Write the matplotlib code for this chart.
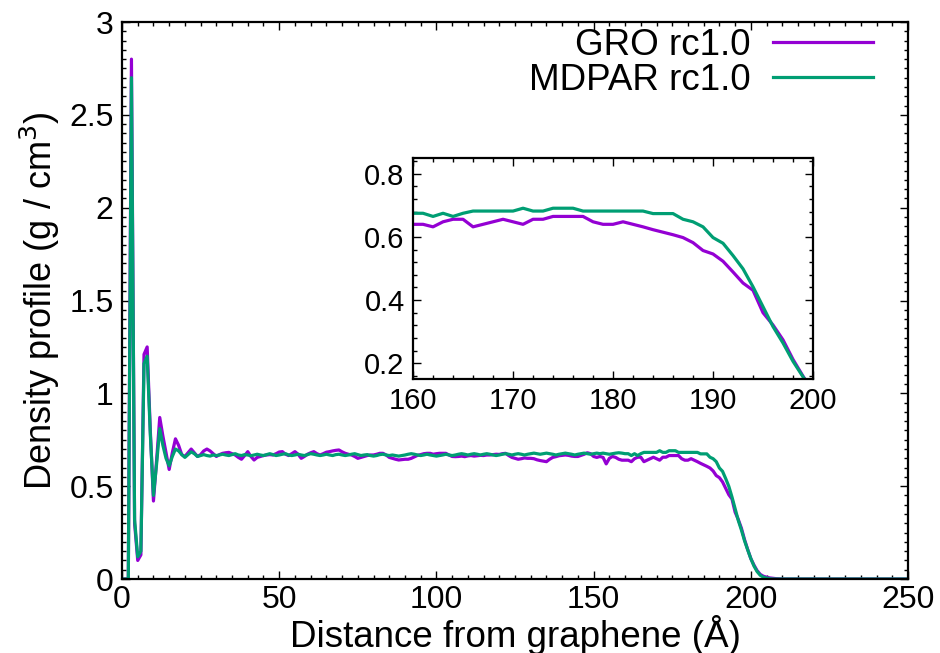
import numpy as np
import matplotlib
matplotlib.use('Agg')
import matplotlib.pyplot as plt
from matplotlib.ticker import MultipleLocator, FuncFormatter

plt.rcParams['font.family'] = ['Liberation Sans', 'DejaVu Sans']

# density profiles, 1 A bins starting at 0 A
gro = [0.0, 0.0, 0.0, 2.80, 0.30, 0.10, 0.13, 1.21, 1.25, 0.80,
       0.42, 0.64, 0.87, 0.77, 0.68, 0.59, 0.68, 0.755, 0.72, 0.67,
       0.66, 0.68, 0.70, 0.68, 0.66, 0.67, 0.69, 0.70, 0.69, 0.675,
       0.66, 0.67, 0.677, 0.68, 0.682, 0.675, 0.668, 0.655, 0.645, 0.665,
       0.686, 0.66, 0.641, 0.655, 0.66, 0.665, 0.668, 0.67, 0.668, 0.675,
       0.684, 0.686, 0.672, 0.665, 0.675, 0.686, 0.672, 0.65, 0.66, 0.672,
       0.68, 0.686, 0.675, 0.668, 0.675, 0.683, 0.686, 0.69, 0.693, 0.695,
       0.685, 0.677, 0.672, 0.668, 0.66, 0.65, 0.655, 0.66, 0.665, 0.668,
       0.668, 0.672, 0.677, 0.677, 0.668, 0.655, 0.65, 0.645, 0.641, 0.643,
       0.645, 0.645, 0.65, 0.658, 0.666, 0.67, 0.675, 0.677, 0.677, 0.672,
       0.675, 0.677, 0.677, 0.677, 0.668, 0.66, 0.659, 0.66, 0.662, 0.659,
       0.663, 0.665, 0.662, 0.664, 0.666, 0.665, 0.668, 0.668, 0.67, 0.672,
       0.671, 0.675, 0.677, 0.665, 0.655, 0.65, 0.645, 0.648, 0.652, 0.65,
       0.65, 0.648, 0.642, 0.638, 0.635, 0.632, 0.645, 0.655, 0.659, 0.664,
       0.666, 0.668, 0.666, 0.662, 0.66, 0.66, 0.666, 0.672, 0.68, 0.675,
       0.66, 0.655, 0.66, 0.655, 0.62, 0.65, 0.66, 0.655, 0.645, 0.64,
       0.640, 0.640, 0.632, 0.648, 0.656, 0.656, 0.632, 0.640, 0.648, 0.656,
       0.648, 0.640, 0.656, 0.656, 0.665, 0.665, 0.665, 0.665, 0.648, 0.640,
       0.640, 0.648, 0.640, 0.632, 0.623, 0.615, 0.607, 0.598, 0.582, 0.557,
       0.546, 0.523, 0.489, 0.454, 0.431, 0.360, 0.321, 0.274, 0.212, 0.159,
       0.11, 0.075, 0.045, 0.025, 0.015, 0.01, 0.006, 0.004, 0.002, 0.001,
       0.0, 0.0, 0.0, 0.0, 0.0, 0.0, 0.0, 0.0, 0.0, 0.0,
       0.0, 0.0, 0.0, 0.0, 0.0, 0.0, 0.0, 0.0, 0.0, 0.0,
       0.0, 0.0, 0.0, 0.0, 0.0, 0.0, 0.0, 0.0, 0.0, 0.0,
       0.0, 0.0, 0.0, 0.0, 0.0, 0.0, 0.0, 0.0, 0.0, 0.0,
       0.0]

mdpar = [0.0, 0.0, 0.0, 2.70, 0.32, 0.12, 0.15, 1.16, 1.20, 0.78,
         0.45, 0.62, 0.81, 0.72, 0.65, 0.61, 0.66, 0.70, 0.69, 0.67,
         0.655, 0.67, 0.685, 0.675, 0.66, 0.665, 0.67, 0.665, 0.662, 0.668,
         0.665, 0.668, 0.672, 0.668, 0.665, 0.67, 0.675, 0.668, 0.665, 0.67,
         0.668, 0.664, 0.668, 0.672, 0.668, 0.665, 0.67, 0.675, 0.67, 0.665,
         0.668, 0.672, 0.675, 0.668, 0.665, 0.668, 0.672, 0.668, 0.665, 0.67,
         0.675, 0.672, 0.668, 0.665, 0.668, 0.672, 0.668, 0.665, 0.67, 0.672,
         0.668, 0.665, 0.668, 0.672, 0.675, 0.67, 0.665, 0.668, 0.67, 0.665,
         0.662, 0.665, 0.67, 0.672, 0.668, 0.665, 0.668, 0.665, 0.662, 0.665,
         0.668, 0.672, 0.675, 0.672, 0.668, 0.665, 0.668, 0.672, 0.668, 0.665,
         0.662, 0.665, 0.668, 0.672, 0.668, 0.665, 0.668, 0.672, 0.675, 0.672,
         0.668, 0.672, 0.675, 0.672, 0.668, 0.672, 0.675, 0.672, 0.668, 0.665,
         0.668, 0.672, 0.675, 0.672, 0.668, 0.672, 0.675, 0.672, 0.668, 0.672,
         0.675, 0.678, 0.675, 0.672, 0.675, 0.678, 0.675, 0.672, 0.668, 0.672,
         0.675, 0.678, 0.675, 0.672, 0.668, 0.672, 0.675, 0.678, 0.675, 0.672,
         0.675, 0.678, 0.675, 0.678, 0.675, 0.672, 0.675, 0.678, 0.68, 0.678,
         0.675, 0.675, 0.665, 0.675, 0.665, 0.675, 0.682, 0.682, 0.682, 0.682,
         0.682, 0.691, 0.682, 0.682, 0.691, 0.691, 0.691, 0.682, 0.682, 0.682,
         0.682, 0.682, 0.682, 0.682, 0.674, 0.674, 0.674, 0.656, 0.648, 0.632,
         0.598, 0.58, 0.541, 0.499, 0.442, 0.379, 0.316, 0.264, 0.206, 0.157,
         0.11, 0.07, 0.04, 0.02, 0.01, 0.005, 0.002, 0.0, 0.0, 0.0,
         0.0, 0.0, 0.0, 0.0, 0.0, 0.0, 0.0, 0.0, 0.0, 0.0,
         0.0, 0.0, 0.0, 0.0, 0.0, 0.0, 0.0, 0.0, 0.0, 0.0,
         0.0, 0.0, 0.0, 0.0, 0.0, 0.0, 0.0, 0.0, 0.0, 0.0,
         0.0, 0.0, 0.0, 0.0, 0.0, 0.0, 0.0, 0.0, 0.0, 0.0,
         0.0]

dist = np.arange(len(gro))
labels = ['GRO rc1.0', 'MDPAR rc1.0']
colors = ['#9400D3', '#009E73']

fmt = FuncFormatter(lambda v, p: '%g' % round(v, 3))


def style(ax, fs):
    ax.tick_params(which='both', direction='in', top=True, right=True,
                   labelsize=fs, width=1.0, pad=6)
    ax.tick_params(which='major', length=6)
    ax.tick_params(which='minor', length=3)
    for s in ax.spines.values():
        s.set_linewidth(1.6)
    ax.yaxis.set_major_formatter(fmt)


fig = plt.figure(figsize=(9.4, 6.53), dpi=100)
ax = fig.add_axes([0.1298, 0.1133, 0.8362, 0.853])
ax.plot(dist, gro, color=colors[0], lw=2.3, label=labels[0])
ax.plot(dist, mdpar, color=colors[1], lw=2.3, label=labels[1])
ax.set_xlim(0, 250)
ax.set_ylim(0, 3)
ax.xaxis.set_major_locator(MultipleLocator(50))
ax.xaxis.set_minor_locator(MultipleLocator(5))
ax.yaxis.set_major_locator(MultipleLocator(0.5))
ax.yaxis.set_minor_locator(MultipleLocator(0.05))
style(ax, 23)
ax.tick_params(axis='x', pad=4)
ax.set_xlabel('Distance from graphene (Å)', fontsize=26.5, labelpad=0)
ax.set_ylabel('Density profile (g / cm$^3$)', fontsize=26, labelpad=5)

leg = ax.legend(loc='upper right', bbox_to_anchor=(0.955, 0.99), frameon=False,
                markerfirst=False, fontsize=26.5, handlelength=2.7,
                handletextpad=0.62, labelspacing=0.0, borderpad=0, borderaxespad=0)

ins = fig.add_axes([0.4394, 0.4196, 0.4255, 0.3384])
ins.plot(dist, gro, color=colors[0], lw=2.3)
ins.plot(dist, mdpar, color=colors[1], lw=2.3)
ins.set_xlim(160, 200)
ins.set_ylim(0.15, 0.85)
ins.xaxis.set_major_locator(MultipleLocator(10))
ins.xaxis.set_minor_locator(MultipleLocator(2))
ins.yaxis.set_major_locator(MultipleLocator(0.2))
ins.yaxis.set_minor_locator(MultipleLocator(0.04))
style(ins, 21)

fig.savefig('out.png', dpi=100)
